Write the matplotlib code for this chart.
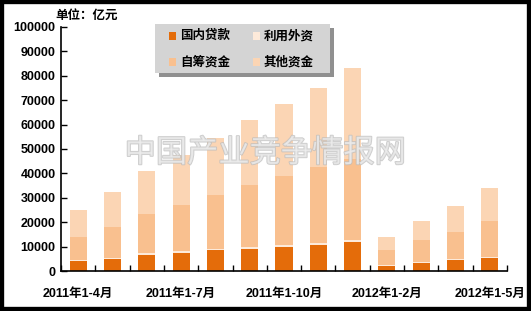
import matplotlib
matplotlib.use("Agg")
import matplotlib.pyplot as plt
import matplotlib.patheffects as pe
from matplotlib.patches import Rectangle
import numpy as np

plt.rcParams['font.family'] = ['Liberation Sans', 'Noto Sans CJK SC', 'DejaVu Sans']

categories = ["2011年1-4月", "2011年1-5月", "2011年1-6月", "2011年1-7月", "2011年1-8月",
              "2011年1-9月", "2011年1-10月", "2011年1-11月", "2011年1-12月",
              "2012年1-2月", "2012年1-3月", "2012年1-4月", "2012年1-5月"]
domestic_loans = [4200, 5000, 6700, 7500, 8500, 9100, 10000, 10800, 12000, 2200, 3400, 4600, 5500]
foreign_capital = [400, 500, 500, 500, 500, 600, 600, 600, 700, 400, 300, 400, 400]
self_raised = [9300, 12500, 16300, 19200, 22300, 25700, 28500, 31200, 33100, 6000, 9000, 11000, 14600]
other_funds = [11100, 14400, 17500, 20400, 23400, 26500, 29400, 32400, 37400, 5300, 7800, 10600, 13500]
series_names = ["国内贷款", "利用外资", "自筹资金", "其他资金"]
colors = ["#E46C0A", "#FDEADA", "#F9C08F", "#FBD5B4"]
shown_labels = {0: "2011年1-4月", 3: "2011年1-7月", 6: "2011年1-10月", 9: "2012年1-2月", 12: "2012年1-5月"}

fig = plt.figure(figsize=(5.31, 3.11), dpi=100)
ax = fig.add_axes([61/531, 1 - 271/311, 446/531, 244/311])

x = np.arange(len(categories))
bottom = np.zeros(len(categories))
for vals, name, c in zip([domestic_loans, foreign_capital, self_raised, other_funds], series_names, colors):
    ax.bar(x, vals, width=0.5, bottom=bottom, color=c, label=name, zorder=2)
    bottom += np.array(vals)

ax.set_xlim(-0.5, len(categories) - 0.5)
ax.set_ylim(0, 100000)
ax.set_yticks(np.arange(0, 100001, 10000))
ax.set_yticklabels([str(v) for v in range(0, 100001, 10000)], fontsize=9, fontweight='bold')
ax.set_xticks(np.arange(-0.5, len(categories), 1), minor=False)
ax.set_xticklabels([])
ax.set_xticks(list(shown_labels.keys()), minor=True)
ax.set_xticklabels(list(shown_labels.values()), minor=True, fontsize=9, fontweight='bold')
ax.tick_params(axis='x', which='minor', length=0, pad=12)
ax.tick_params(axis='x', which='major', direction='in', length=4, width=1)
ax.tick_params(axis='y', direction='in', length=4, width=1, pad=4)
for s in ['top', 'right']:
    ax.spines[s].set_visible(False)
for s in ['left', 'bottom']:
    ax.spines[s].set_linewidth(1.2)

fig.text(55/531, 1 - 16/311, "单位：亿元", fontsize=9, fontweight='bold', va='center', ha='left')

# legend box
shadow = Rectangle((159/531, 1 - 77/311), 175/531, 49/311, transform=fig.transFigure,
                   facecolor='#909090', edgecolor='none', zorder=5)
box = Rectangle((155/531, 1 - 73/311), 175/531, 49/311, transform=fig.transFigure,
                facecolor='#D4D4D4', edgecolor='none', zorder=6)
fig.patches.extend([shadow, box])
leg_pos = [(173, 36), (257, 36), (173, 62), (257, 62)]
for (px, py), name, c in zip(leg_pos, series_names, colors):
    fig.patches.append(Rectangle(((px - 4) / 531, 1 - (py + 4) / 311), 7/531, 8/311,
                                 transform=fig.transFigure, facecolor=c, edgecolor='none', zorder=7))
    fig.text((px + 7) / 531, 1 - py / 311, name, fontsize=9, fontweight='bold',
             va='center', ha='left', zorder=8)

# watermark
ax.text(0.458, 0.48, "中国产业竞争情报网", transform=ax.transAxes, fontsize=22.5,
        color='#EDEDED', ha='center', va='center', zorder=4, alpha=0.75,
        path_effects=[pe.withStroke(linewidth=1.3, foreground='#BDBDBD')])

# outer frame
fig.patches.append(Rectangle((0, 0), 1, 1, transform=fig.transFigure, fill=False,
                             edgecolor='black', linewidth=6, zorder=10))

fig.savefig("out.png", dpi=100)
